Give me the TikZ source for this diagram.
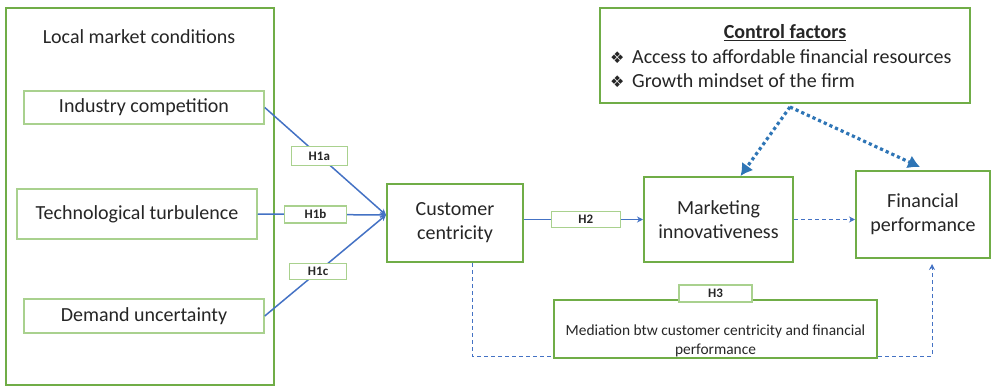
\documentclass[tikz,border=0pt]{standalone}
\usepackage{fontspec}
\setmainfont{Carlito}
\newfontfamily\dingfont{DejaVu Sans}
\usetikzlibrary{arrows.meta,calc}

\definecolor{boxgreen}{RGB}{112,173,71}
\definecolor{palegreen}{RGB}{169,209,142}
\definecolor{linkblue}{RGB}{68,114,196}
\definecolor{ctrlblue}{RGB}{46,117,182}
\definecolor{inktext}{RGB}{38,38,38}

\tikzset{
  factor/.style={draw=boxgreen, line width=2pt, fill=white, text=inktext, align=center,
    inner sep=0pt, font=\fontsize{20}{24}\selectfont},
  subfactor/.style={factor, draw=palegreen, line width=1.5pt},
  hyp/.style={draw=palegreen, line width=1.3pt, fill=white, inner sep=0pt, text=inktext,
    font=\fontsize{13}{14}\selectfont\bfseries},
  plain/.style={text=inktext, inner sep=0pt, font=\fontsize{20}{24}\selectfont},
  link/.style={linkblue, line width=1.5pt},
  dashlink/.style={linkblue, line width=1pt, dash pattern=on 4pt off 3pt},
  ctrl/.style={ctrlblue, line width=3.2pt, dash pattern=on 3.2pt off 3pt,
    -{Latex[length=12pt,width=14pt]}},
}
\newcommand{\ctrlbullet}{\makebox[22pt][l]{\dingfont\fontsize{16}{16}\selectfont ❖}}

\begin{document}
\begin{tikzpicture}[x=1pt, y=-1pt, >={Stealth[length=6pt,width=6pt]}]
  \useasboundingbox (0,0) rectangle (991,386);

  % local market conditions block
  \node[factor, line width=1.6pt, minimum width=268pt, minimum height=377pt] (lmc) at (140,196.5) {};
  \node[plain] (lmctitle) at (139,37) {Local market conditions};
  \node[subfactor, minimum width=240pt, minimum height=33pt] (ind) at (144,107.5) {Industry competition};
  \node[subfactor, minimum width=240pt, minimum height=50pt] (tech) at (137,214) {Technological turbulence};
  \node[subfactor, minimum width=240pt, minimum height=34pt] (dem) at (144,316) {Demand uncertainty};

  % main constructs
  \node[factor, minimum width=136pt, minimum height=78pt] (cc) at (455,223) {Customer\\centricity};
  \node[factor, minimum width=149pt, minimum height=85pt] (mi) at (718.5,219.5) {Marketing\\innovativeness};
  \node[factor, minimum width=134pt, minimum height=87pt] (fp) at (923,214.5) {Financial\\performance};

  % control factors
  \node[factor, minimum width=370pt, minimum height=95pt] (cf) at (785,55.5) {};
  \node[plain, font=\fontsize{20}{24}\selectfont\bfseries] (cftitle) at (785,33) {\underline{Control factors}};
  \node[plain, anchor=west] (cfa) at (610,57) {\ctrlbullet Access to affordable financial resources};
  \node[plain, anchor=west] (cfb) at (610,81) {\ctrlbullet Growth mindset of the firm};

  % mediation box with its hypothesis tag
  \node[factor, minimum width=323pt, minimum height=58pt] (med) at (715.5,329) {};
  \node[plain, font=\fontsize{15.4}{19}\selectfont, align=center] (medtxt) at (715.5,340.5)
    {Mediation btw customer centricity and financial\\performance};
  \node[hyp, minimum width=73pt, minimum height=17pt] (h3) at ([yshift=5.5pt]med.north) {H3};

  % hypotheses H1a-c and H2
  \coordinate (ccin) at ($(cc.west)+(0,-8)$);
  \draw[link,->] (ind.east) -- node[hyp, pos=0.45, minimum width=56pt, minimum height=19pt] (h1a) {H1a} (ccin);
  \draw[link,->] (tech.east) -- node[hyp, pos=0.45, minimum width=62pt, minimum height=17pt] (h1b) {H1b} (ccin);
  \draw[link,->] (dem.east) -- node[hyp, pos=0.44, minimum width=57pt, minimum height=16pt] (h1c) {H1c} (ccin);
  \draw[link,->] (cc.east |- mi.west) -- node[hyp, pos=0.52, minimum width=69pt, minimum height=16pt] (h2) {H2} (mi.west);
  \draw[dashlink,->] (mi.east) -- (mi.east -| fp.west);

  % mediation path
  \draw[dashlink] ([xshift=17pt]cc.south) |- ([yshift=3pt]med.south west);
  \draw[dashlink,->,shorten >=5pt] ([yshift=3pt]med.south east) -| ([xshift=9pt]fp.south);

  % control factor arrows
  \coordinate (cfout) at ([xshift=5pt,yshift=-3pt]cf.south);
  \draw[ctrl] (cfout) -- ($(mi.north)+(22,0)$);
  \draw[ctrl] (cfout) -- ($(fp.north)+(-3,-3)$);
\end{tikzpicture}
\end{document}
